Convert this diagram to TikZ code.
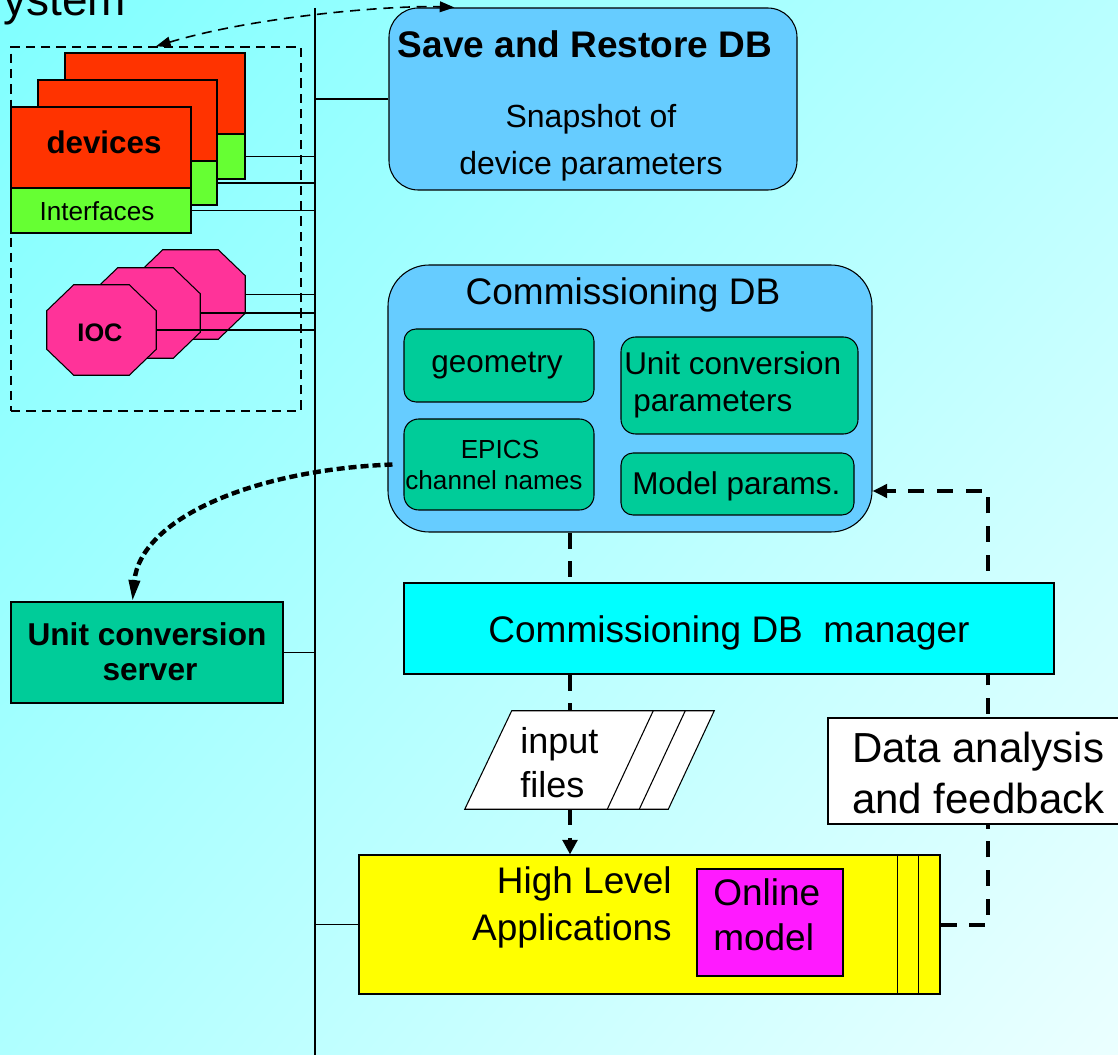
\documentclass[tikz,border=0pt]{standalone}
\usepackage{fontspec}
\setmainfont{Liberation Sans}
\usetikzlibrary{fit,calc,arrows.meta,shadings}
\definecolor{bgUL}{RGB}{128,255,255}
\definecolor{bgUR}{RGB}{185,255,255}
\definecolor{bgLL}{RGB}{175,255,255}
\definecolor{bgLR}{RGB}{235,255,255}
\definecolor{dbblue}{RGB}{102,204,255}
\definecolor{tealg}{RGB}{0,204,153}
\definecolor{devred}{RGB}{255,51,0}
\definecolor{ifgreen}{RGB}{102,255,51}
\definecolor{iocpink}{RGB}{255,51,153}
\definecolor{mgrcyan}{RGB}{0,255,255}
\definecolor{hlayellow}{RGB}{255,255,0}
\definecolor{ommag}{RGB}{255,26,255}
\newcommand\myfs[1]{\fontsize{#1}{#1}\selectfont}
\newcommand\octo[1]{%
  \filldraw[draw=black, line width=0.8pt, fill=iocpink]
   ($(#1.north west)+(27,0)$) -- ($(#1.north east)+(-27,0)$) --
   ($(#1.north east)+(0,26)$) -- ($(#1.south east)+(0,-26)$) --
   ($(#1.south east)+(-27,0)$) -- ($(#1.south west)+(27,0)$) --
   ($(#1.south west)+(0,-26)$) -- ($(#1.north west)+(0,26)$) -- cycle;}
\begin{document}
\begin{tikzpicture}[x=0.75pt, y=-0.75pt,
  box/.style={draw=black, line width=0.8pt, inner sep=0pt},
  ghost/.style={inner sep=0pt},
  dashbox/.style={draw=black, line width=1.1pt, dash pattern=on 7pt off 4.5pt, inner sep=0pt},
  txt/.style={inner sep=0pt, anchor=base, text=black},
  wire/.style={draw=black, line width=1.1pt},
  thindash/.style={draw=black, line width=1.2pt, dash pattern=on 7.5pt off 5pt},
  thickdash/.style={draw=black, line width=3pt, dash pattern=on 12pt off 9.5pt},
  dotdash/.style={draw=black, line width=3.3pt, dash pattern=on 6pt off 3pt},
  tipA/.style={-{Triangle[length=11pt,width=10pt]}}
]
\useasboundingbox (0,0) rectangle (1118,1055);
\clip (0,0) rectangle (1118,1055);
\shade[upper left=bgUL, upper right=bgUR, lower left=bgLL, lower right=bgLR] (0,0) rectangle (1118,1055);

% title fragment
\node[txt, anchor=base west] (tsys) at (3,16) {\myfs{34.5}ystem};

% bus
\coordinate (bustop) at (315,8);
\coordinate (busbot) at (315,1060);
\draw[line width=2.2pt] (bustop) -- (busbot);

% device region
\node[dashbox, fit={(11,47) (301,411)}] (sysbox) {};

% device cards
\node[box, fill=devred, fit={(65,53) (245,134)}] (devC) {};
\node[box, fill=ifgreen, fit={(65,134) (245,179)}] (ifC) {};
\node[box, fill=devred, fit={(38,80) (217,161)}] (devB) {};
\node[box, fill=ifgreen, fit={(38,161) (217,205)}] (ifB) {};
\node[box, fill=devred, fit={(11,107) (191,188)}] (devA) {};
\node[box, fill=ifgreen, fit={(11,188) (191,233)}] (ifA) {};
\node[txt] (tdev) at (104,154) {\myfs{23.5}\bfseries devices};
\node[txt] (tif) at (97,221) {\myfs{19.6}Interfaces};
\draw[wire] (ifC.east) -- (ifC.east -| bustop);
\draw[wire] (ifB.east) -- (ifB.east -| bustop);
\draw[wire] (ifA.east) -- (ifA.east -| bustop);

% IOCs
\node[ghost, fit={(136,250) (245,339)}] (iocC) {};
\node[ghost, fit={(91,268) (200,358)}] (iocB) {};
\node[ghost, fit={(47,285) (156,375)}] (iocA) {};
\octo{iocC}
\octo{iocB}
\octo{iocA}
\draw[wire] (iocC.east) -- (iocC.east -| bustop);
\draw[wire] (iocB.east) -- (iocB.east -| bustop);
\draw[wire] (iocA.east) -- (iocA.east -| bustop);
\node[txt] (tioc) at (100,342) {\myfs{19}\bfseries IOC};

% Save and Restore DB
\node[box, fill=dbblue, rounded corners=22pt, fit={(389,8) (797,190)}] (save) {};
\node[txt] (tsave) at (585,58) {\myfs{27.75}\bfseries Save and Restore DB};
\node[txt] (tsnap1) at (591,128) {\myfs{24}Snapshot of};
\node[txt] (tsnap2) at (591,175) {\myfs{24}device parameters};
\draw[wire] (save.west) -- (save.west -| bustop);

% top dashed double arrow
\draw[thindash, {Triangle[length=11pt,width=8pt]}-{Triangle[length=11pt,width=8pt]}]
  (sysbox.north) .. controls (260,15) and (400,5) .. ($(save.north west)+(66,0)$);

% Commissioning DB
\node[box, fill=dbblue, rounded corners=31pt, fit={(388,265) (872,532)}] (cdb) {};
\node[txt] (tcdb) at (623,305) {\myfs{27.75}Commissioning DB};
\draw[wire] ($(cdb.north west)!0.532!(cdb.south west)$) -- ($(cdb.north west)!0.532!(cdb.south west)$ -| bustop);
\node[box, fill=tealg, rounded corners=9pt, fit={(404,329) (594,402)}] (geo) {};
\node[box, fill=tealg, rounded corners=11pt, fit={(621,337) (858,434)}] (ucp) {};
\node[box, fill=tealg, rounded corners=11pt, fit={(404,419) (594,510)}] (epics) {};
\node[box, fill=tealg, rounded corners=9pt, fit={(621,453) (854,515)}] (mp) {};
\node[txt] (tgeo) at (497,373) {\myfs{23.6}geometry};
\node[txt, anchor=base west] (tucp1) at (624,375) {\myfs{23.6}Unit conversion};
\node[txt, anchor=base west] (tucp2) at (633,412) {\myfs{23.6}parameters};
\node[txt] (tepi1) at (500,459) {\myfs{19.6}EPICS};
\node[txt] (tepi2) at (494,490) {\myfs{19.6}channel names};
\node[txt, anchor=base west] (tmp) at (632,495) {\myfs{23.6}Model params.};

% High level applications
\node[box, fill=hlayellow, fit={(359,855) (940,994)}] (hla) {};
\draw[box] ($(hla.north east)+(-43,0)$) -- ($(hla.south east)+(-43,0)$);
\draw[box] ($(hla.north east)+(-22,0)$) -- ($(hla.south east)+(-22,0)$);
\node[box, fill=ommag, fit={(697,869) (843,976)}] (om) {};
\node[txt, anchor=base east] (thla1) at (672,893) {\myfs{27.75}High Level};
\node[txt, anchor=base east] (thla2) at (672,940) {\myfs{27.75}Applications};
\node[txt, anchor=base west] (tom1) at (713,905) {\myfs{27.75}Online};
\node[txt, anchor=base west] (tom2) at (713,950) {\myfs{27.75}model};
\draw[wire] (hla.west) -- (hla.west -| bustop);

% feedback loop (behind boxes)
\coordinate (fbc) at (988,491);
\draw[thickdash, tipA] (hla.east) -| (fbc) -- (fbc -| cdb.east);

% manager
\node[box, fill=mgrcyan, fit={(404,583) (1054,674)}] (mgr) {};
\node[txt] (tmgr) at (729,642) {\myfs{27.75}Commissioning DB~~manager};

% data analysis
\node[box, fill=white, fit={(828,718) (1130,824)}] (da) {};
\node[txt, anchor=base west] (tda1) at (852,762) {\myfs{31.5}Data analysis};
\node[txt, anchor=base west] (tda2) at (852,813) {\myfs{31.5}and feedback};

% input files
\node[ghost, fit={(465,711) (714,809)}] (inp) {};
\filldraw[box, fill=white] ($(inp.north west)+(47,0)$) -- (inp.north east) --
   ($(inp.south east)+(-46,0)$) -- (inp.south west) -- cycle;
\draw[box] ($(inp.north east)+(-61,0)$) -- ($(inp.south east)+(-107,0)$);
\draw[box] ($(inp.north east)+(-29,0)$) -- ($(inp.south east)+(-75,0)$);
\node[txt, anchor=base west] (tinp1) at (520,753) {\myfs{27}input};
\node[txt, anchor=base west] (tinp2) at (520,797) {\myfs{27}files};

% vertical dashed connectors
\coordinate (vx) at (570,0);
\draw[thickdash] (cdb.south -| vx) -- (mgr.north -| vx);
\draw[thickdash] (mgr.south -| vx) -- (inp.north -| vx);
\draw[thickdash, -{Triangle[length=11pt,width=11pt]}] (inp.south -| vx) -- (hla.north -| vx);

% unit conversion server
\node[box, fill=tealg, fit={(11,602) (283,703)}] (ucs) {};
\node[txt] (tucs1) at (147,645) {\myfs{23.7}\bfseries Unit conversion};
\node[txt] (tucs2) at (150,680) {\myfs{23.7}\bfseries server};
\draw[wire] (ucs.east) -- (ucs.east -| bustop);

% thick dotted curve
\draw[dotdash, -{Triangle[length=16pt,width=8pt]}] ($(epics.west)+(-11,0)$)
  .. controls (250,470) and (140,520) .. ($(ucs.north west)+(122,0)$);
\end{tikzpicture}
\end{document}
